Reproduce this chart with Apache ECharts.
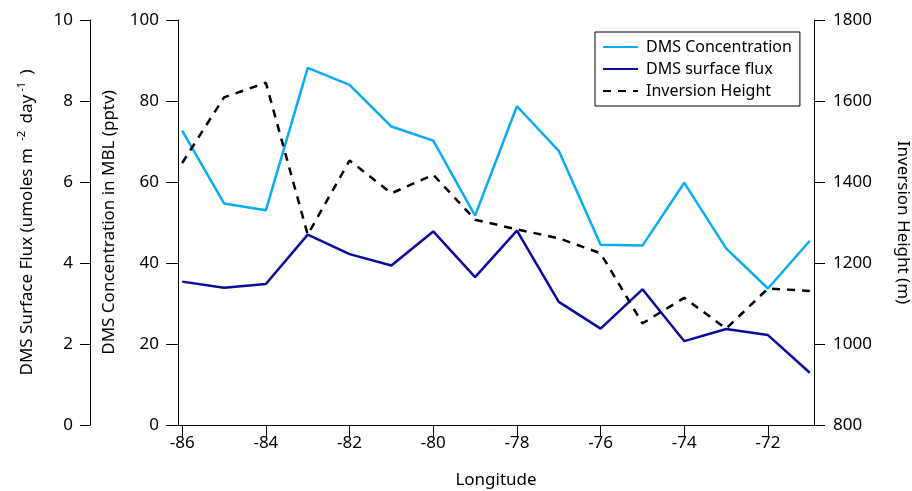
<!DOCTYPE html>
<html>
<head>
<meta charset="utf-8">
<script src="https://cdn.jsdelivr.net/npm/echarts@6/dist/echarts.min.js"></script>
<style>html,body{margin:0;padding:0;background:#fff;}#c{width:912px;height:491px;}</style>
</head>
<body>
<div id="c"></div>
<script>
// Data
var longitude = [-86, -85, -84, -83, -82, -81, -80, -79, -78, -77, -76, -75, -74, -73, -72, -71];
var dmsConcentration = [72.7, 54.7, 53.0, 88.2, 84.0, 73.7, 70.2, 51.7, 78.7, 67.7, 44.5, 44.3, 59.8, 43.6, 33.7, 45.5];
var dmsFlux = [3.54, 3.39, 3.48, 4.70, 4.22, 3.94, 4.78, 3.65, 4.80, 3.04, 2.38, 3.35, 2.07, 2.37, 2.22, 1.29];
var inversionHeight = [1447, 1609, 1645, 1270, 1453, 1372, 1418, 1307, 1283, 1261, 1224, 1051, 1114, 1038, 1137, 1131];
var xTickValues = [-86, -84, -82, -80, -78, -76, -74, -72];
var seriesNames = ['DMS Concentration', 'DMS surface flux', 'Inversion Height'];

function pairs(ys) { return longitude.map(function (x, i) { return [x, ys[i]]; }); }

var FONT = 'Noto Sans';
var axisCommon = {
  axisLine: { show: true, lineStyle: { color: '#000', width: 1 } },
  axisTick: { show: true, inside: false, length: 12, lineStyle: { color: '#000', width: 1 } },
  splitLine: { show: false },
  axisLabel: { color: '#000', fontFamily: FONT, fontSize: 17, margin: 19, formatter: function (v) { return String(v); } },
  nameLocation: 'middle',
  nameTextStyle: { color: '#000', fontFamily: FONT, fontSize: 17 }
};
function ax(o) {
  var base = Object.assign({}, axisCommon);
  base.axisLabel = Object.assign({}, axisCommon.axisLabel);
  return Object.assign(base, o);
}

var chart = echarts.init(document.getElementById('c'), null, { renderer: 'canvas' });
chart.setOption({
  animation: false,
  backgroundColor: '#fff',
  grid: { left: 178, right: 98, top: 20, bottom: 66, containLabel: false, outerBoundsMode: 'none' },
  legend: {
    orient: 'vertical', left: 595, top: 32,
    data: seriesNames,
    itemWidth: 35, itemHeight: 14, itemGap: 6,
    padding: [7, 8, 7, 7],
    borderColor: '#000', borderWidth: 1,
    itemStyle: { opacity: 0 },
    textStyle: { color: '#000', fontFamily: FONT, fontSize: 16, padding: [0, 0, 0, 3] }
  },
  xAxis: ax({
    type: 'value', min: -86.1, max: -70.9,
    name: 'Longitude', nameGap: 47,
    axisLabel: { color: '#000', fontFamily: FONT, fontSize: 17, margin: 10, customValues: xTickValues },
    axisTick: { show: true, length: 12, lineStyle: { color: '#000' }, customValues: xTickValues }
  }),
  yAxis: [
    ax({
      type: 'value', position: 'left', offset: 88, min: 0, max: 10, interval: 2,
      axisTick: { show: true, length: 10, lineStyle: { color: '#000', width: 1 } },
      axisLabel: { color: '#000', fontFamily: FONT, fontSize: 17, margin: 17 },
      name: '{n|DMS Surface Flux (umoles m }{s|-2}{n| day}{s|-1}{n| )}', nameGap: 52,
      nameTextStyle: { color: '#000', fontFamily: FONT, fontSize: 17,
        rich: { n: { fontFamily: FONT, fontSize: 17, lineHeight: 22, color: '#000' },
                s: { fontFamily: FONT, fontSize: 11, lineHeight: 11, verticalAlign: 'top', color: '#000', padding: [0, 3, 0, 3] } } }
    }),
    ax({
      type: 'value', position: 'left', offset: 0, min: 0, max: 100, interval: 20,
      name: 'DMS Concentration in MBL (pptv)', nameGap: 60
    }),
    ax({
      type: 'value', position: 'right', offset: 0, min: 800, max: 1800, interval: 200,
      axisTick: { show: true, length: 11, lineStyle: { color: '#000', width: 1 } },
      name: 'Inversion Height (m)', nameGap: 80, nameRotate: -90
    })
  ],
  series: [
    { name: seriesNames[0], type: 'line', xAxisIndex: 0, yAxisIndex: 1, data: pairs(dmsConcentration),
      symbol: 'none', lineStyle: { color: '#0AAAF5', width: 2.5 }, itemStyle: { color: '#0AAAF5' }, z: 2 },
    { name: seriesNames[1], type: 'line', xAxisIndex: 0, yAxisIndex: 0, data: pairs(dmsFlux),
      symbol: 'none', lineStyle: { color: '#0A0A9C', width: 2.5 }, itemStyle: { color: '#0A0A9C' }, z: 3 },
    { name: seriesNames[2], type: 'line', xAxisIndex: 0, yAxisIndex: 2, data: pairs(inversionHeight),
      symbol: 'none', lineStyle: { color: '#000', width: 2.5, type: [8, 7] }, itemStyle: { color: '#000' }, z: 4 }
  ]
});
</script>
</body>
</html>
